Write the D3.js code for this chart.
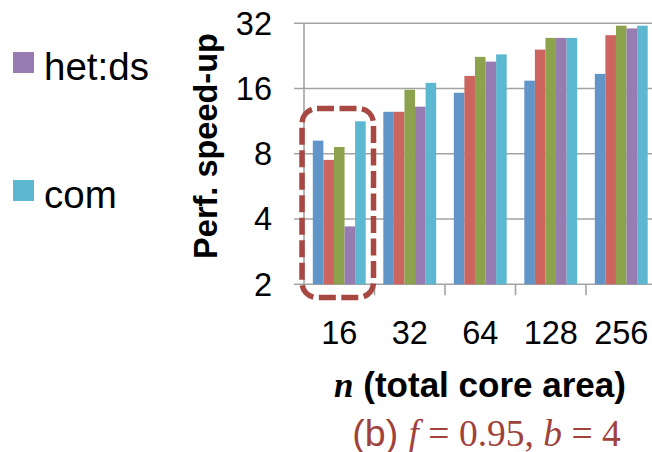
<!DOCTYPE html>
<html>
<head>
<meta charset="utf-8">
<script src="https://cdn.jsdelivr.net/npm/d3@7"></script>
<style>
  body { margin: 0; background: #fff; }
  svg { display: block; }
</style>
</head>
<body>
<div id="chart"></div>
<script>
// chart values
const categories = ["16", "32", "64", "128", "256"];
const seriesNames = ["sym", "asym", "het:dp", "het:ds", "com"];
const sym    = [9.2, 12.5, 15.3, 17.4, 18.7];
const asym   = [7.5, 12.5, 18.3, 24.2, 28.2];
const hetDp  = [8.6, 15.8, 22.4, 27.4, 31.2];
const hetDs  = [3.7, 13.2, 21.3, 27.4, 30.3];
const com    = [11.3, 17.0, 23.0, 27.4, 31.2];
const yTicks = [2, 4, 8, 16, 32];
const legendShown = ["het:ds", "com"];

const colors = ["#6195c8", "#cc6560", "#8ca24c", "#967cb1", "#5cb7d0"];
const series = [sym, asym, hetDp, hetDs, com];

const width = 652, height = 452;

const svg = d3.select("#chart").append("svg")
  .attr("width", width)
  .attr("height", height);

const x = d3.scaleBand()
  .domain(categories)
  .range([304, 656.5])
  .paddingInner(0.25)
  .paddingOuter(0.125);

const xs = d3.scaleBand()
  .domain(seriesNames)
  .range([0, x.bandwidth()]);

const y = d3.scaleLog().base(2)
  .domain([2, 32])
  .range([284.3, 23.3]);

// gridlines
svg.append("g")
  .selectAll("line")
  .data(yTicks)
  .join("line")
  .attr("x1", 294).attr("x2", width)
  .attr("y1", d => y(d)).attr("y2", d => y(d))
  .attr("stroke", "#a3a3a3")
  .attr("stroke-width", 1.6);

// y axis line
svg.append("line")
  .attr("x1", 304).attr("x2", 304)
  .attr("y1", y(32)).attr("y2", y(2))
  .attr("stroke", "#a3a3a3")
  .attr("stroke-width", 1.6);

// category separator ticks
svg.append("g")
  .selectAll("line")
  .data(categories.slice(1))
  .join("line")
  .attr("x1", d => x(d) - x.step() * x.paddingInner() / 2)
  .attr("x2", d => x(d) - x.step() * x.paddingInner() / 2)
  .attr("y1", y(2)).attr("y2", y(2) + 11)
  .attr("stroke", "#a3a3a3")
  .attr("stroke-width", 1.6);

// bars
const groups = svg.append("g")
  .selectAll("g")
  .data(categories)
  .join("g")
  .attr("transform", d => `translate(${x(d)},0)`);

groups.selectAll("rect")
  .data((d, i) => seriesNames.map((s, j) => ({ s: s, v: series[j][i], c: colors[j] })))
  .join("rect")
  .attr("x", d => xs(d.s))
  .attr("width", xs.bandwidth())
  .attr("y", d => y(d.v))
  .attr("height", d => y(2) - y(d.v))
  .attr("fill", d => d.c);

// y tick labels
svg.append("g")
  .selectAll("text")
  .data(yTicks)
  .join("text")
  .attr("x", 272)
  .attr("y", d => y(d))
  .attr("dy", "0.35em")
  .attr("text-anchor", "end")
  .style("font-family", "Liberation Sans, Arial, sans-serif")
  .style("font-size", "32.5px")
  .text(d => d);

// x tick labels
svg.append("g")
  .selectAll("text")
  .data(categories)
  .join("text")
  .attr("x", d => x(d) + x.bandwidth() / 2)
  .attr("y", 343.5)
  .attr("text-anchor", "middle")
  .style("font-family", "Liberation Sans, Arial, sans-serif")
  .style("font-size", "32.5px")
  .text(d => d);

// y axis title
svg.append("text")
  .attr("transform", "translate(217,146) rotate(-90)")
  .attr("text-anchor", "middle")
  .style("font-family", "Liberation Sans, Arial, sans-serif")
  .style("font-size", "32.5px")
  .style("font-weight", "bold")
  .text("Perf. speed-up");

// x axis title
const xt = svg.append("text")
  .attr("x", 480)
  .attr("y", 396.5)
  .attr("text-anchor", "middle")
  .style("font-family", "Liberation Sans, Arial, sans-serif")
  .style("font-size", "35px")
  .style("font-weight", "bold");
xt.append("tspan")
  .style("font-family", "Liberation Serif, Times New Roman, serif")
  .style("font-style", "italic")
  .text("n");
xt.append("tspan").text(" (total core area)");

// caption
const cap = svg.append("text")
  .attr("x", 486.5)
  .attr("y", 445.5)
  .attr("text-anchor", "middle")
  .attr("fill", "#a0423c")
  .style("font-family", "Liberation Serif, Times New Roman, serif")
  .style("font-size", "37.5px");
cap.append("tspan").style("font-family", "Liberation Sans, Arial, sans-serif").text("(b) ");
cap.append("tspan").style("font-style", "italic").text("f");
cap.append("tspan").text(" = 0.95, ");
cap.append("tspan").style("font-style", "italic").text("b");
cap.append("tspan").text(" = 4");

// legend (only the last two entries are visible)
const legend = svg.append("g")
  .selectAll("g")
  .data(legendShown)
  .join("g")
  .attr("transform", (d, i) => `translate(13,${52 + i * 128})`);
legend.append("rect")
  .attr("width", 21).attr("height", 21)
  .attr("fill", d => colors[seriesNames.indexOf(d)]);
legend.append("text")
  .attr("x", 31)
  .attr("y", 28)
  .style("font-family", "Liberation Sans, Arial, sans-serif")
  .style("font-size", "38.5px")
  .text(d => d);

// highlight around the first group
svg.append("rect")
  .attr("x", 302).attr("y", 108.5)
  .attr("width", 71.5).attr("height", 189)
  .attr("rx", 15).attr("ry", 15)
  .attr("fill", "none")
  .attr("stroke", "#a84843")
  .attr("stroke-width", 5.5)
  .attr("stroke-dasharray", "17,5.5");
</script>
</body>
</html>
